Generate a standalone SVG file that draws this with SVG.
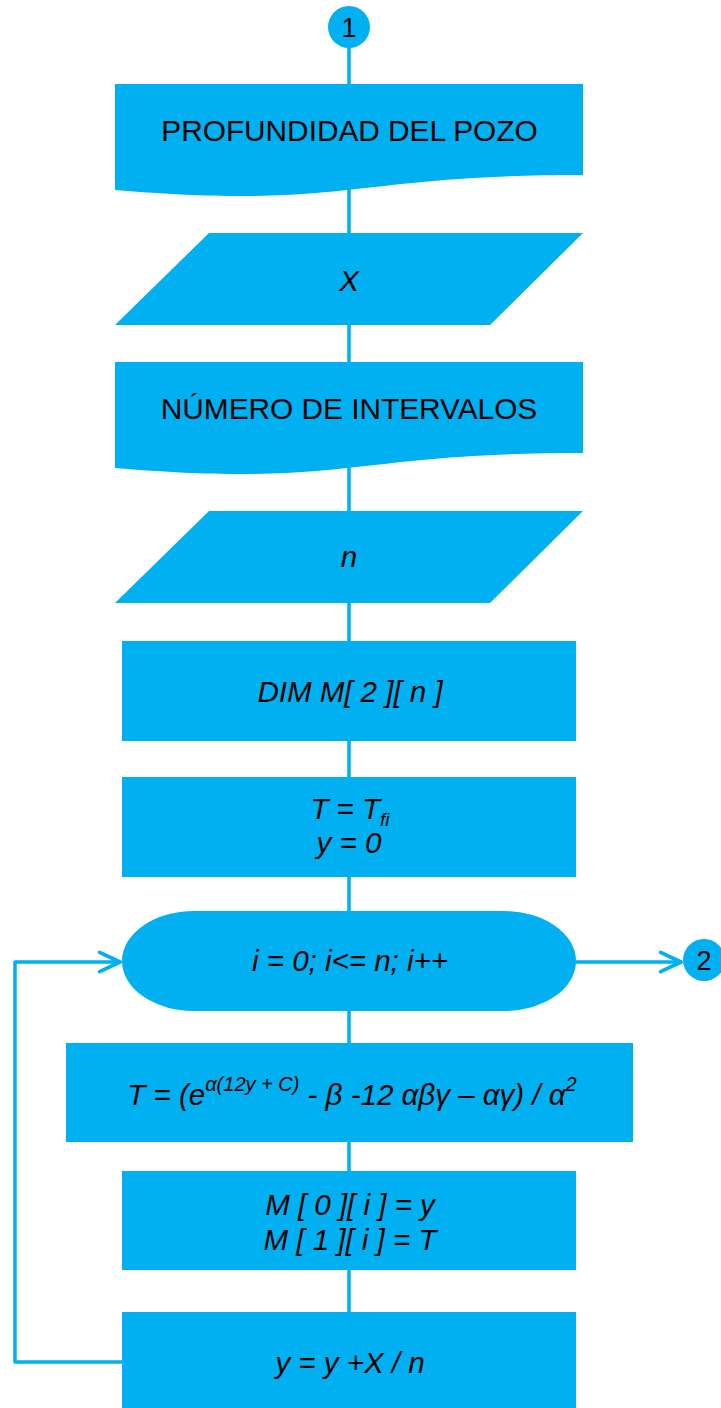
<svg xmlns="http://www.w3.org/2000/svg" width="721" height="1408" viewBox="0 0 721 1408">
<style>
.s{fill:#00B0F0;stroke:none}
.c{fill:none;stroke:#00B0F0;stroke-width:3.5;stroke-linecap:round;stroke-linejoin:round}
.t{font-family:"Liberation Sans",Arial,sans-serif;font-size:29.5px;fill:#000;text-anchor:middle}
.i{font-style:italic}
.n{font-family:"Liberation Sans",Arial,sans-serif;font-size:27px;fill:#000;text-anchor:middle}
</style>
<defs>
<marker id="ar" markerUnits="userSpaceOnUse" markerWidth="30" markerHeight="30" viewBox="-24 -12 28 24" refX="0" refY="0" orient="auto">
<path d="M-19,-9 L0,0 L-19,9" fill="none" stroke="#00B0F0" stroke-width="3.5" stroke-linecap="round" stroke-linejoin="round"/>
</marker>
</defs>
<g id="connectors">
<line class="c" x1="349" y1="48" x2="349" y2="84"/>
<line class="c" x1="349" y1="185" x2="349" y2="233"/>
<line class="c" x1="349" y1="325" x2="349" y2="362"/>
<line class="c" x1="349" y1="463" x2="349" y2="511"/>
<line class="c" x1="349" y1="603" x2="349" y2="641"/>
<line class="c" x1="349" y1="741" x2="349" y2="777"/>
<line class="c" x1="349" y1="877" x2="349" y2="911"/>
<line class="c" x1="349" y1="1011" x2="349" y2="1043"/>
<line class="c" x1="349" y1="1142" x2="349" y2="1171"/>
<line class="c" x1="349" y1="1270" x2="349" y2="1312"/>
<path class="c" d="M576,962 H681" marker-end="url(#ar)"/>
<path class="c" d="M122,1362 H15 V962 H120" marker-end="url(#ar)"/>
</g>
<g id="start1">
<circle class="s" cx="349" cy="27" r="21"/>
<text class="n" x="349" y="37">1</text>
</g>
<g id="doc1">
<path class="s" d="M115,84 H583 V175 C349,175 349,209.7 115,190 Z"/>
<text class="t" x="349.5" y="140.5" style="font-size:29.8px">PROFUNDIDAD DEL POZO</text>
</g>
<g id="inputX">
<polygon class="s" points="209,233 583,233 490,325 115,325"/>
<text class="t i" x="349" y="291">X</text>
</g>
<g id="doc2">
<path class="s" d="M115,362 H583 V453 C349,453 349,487.7 115,468 Z"/>
<text class="t" x="349" y="418.5" style="font-size:29.8px">NÚMERO DE INTERVALOS</text>
</g>
<g id="inputN">
<polygon class="s" points="209,511 583,511 490,603 115,603"/>
<text class="t i" x="349" y="567">n</text>
</g>
<g id="dim">
<rect class="s" x="122" y="641" width="454" height="100"/>
<text class="t i" x="350" y="702">DIM M[ 2 ][ n ]</text>
</g>
<g id="init">
<rect class="s" x="122" y="777" width="454" height="100"/>
<text class="t i" x="350" y="819">T = T<tspan font-size="19" dy="7">fi</tspan></text>
<text class="t i" x="349" y="853">y = 0</text>
</g>
<g id="loop">
<rect class="s" x="122" y="911" width="454" height="100" rx="72" ry="50"/>
<text class="t i" x="350" y="971">i = 0; i&lt;= n; i++</text>
</g>
<g id="end2">
<circle class="s" cx="704" cy="960" r="21"/>
<text class="n" x="704" y="970">2</text>
</g>
<g id="formula">
<rect class="s" x="66" y="1043" width="567" height="99"/>
<text class="t i" x="352" y="1105">T = (e<tspan font-size="20" dy="-14">α(12y + C)</tspan><tspan dy="14"> - β -12 αβγ – αγ) / α</tspan><tspan font-size="20" dy="-14">2</tspan></text>
</g>
<g id="store">
<rect class="s" x="122" y="1171" width="454" height="99"/>
<text class="t i" x="350" y="1215">M [ 0 ][ i ] = y</text>
<text class="t i" x="350" y="1250">M [ 1 ][ i ] = T</text>
</g>
<g id="incr">
<rect class="s" x="122" y="1312" width="454" height="100"/>
<text class="t i" x="350" y="1373">y = y +X / n</text>
</g>
</svg>
